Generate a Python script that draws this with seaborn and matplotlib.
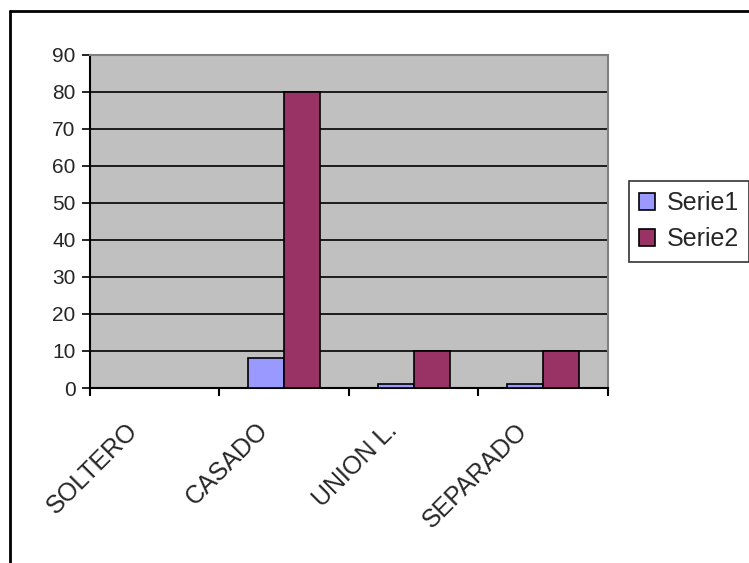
import matplotlib
matplotlib.use("Agg")
import matplotlib.pyplot as plt
import matplotlib.transforms as mtransforms
from matplotlib.lines import Line2D
import seaborn as sns
import pandas as pd

# ---- data ----
categories = ["SOLTERO", "CASADO", "UNION L.", "SEPARADO"]
serie1 = [0, 8, 1, 1]
serie2 = [0, 80, 10, 10]
series_names = ["Serie1", "Serie2"]
y_ticks = [0, 10, 20, 30, 40, 50, 60, 70, 80, 90]

df = pd.DataFrame({
    "estado": categories * 2,
    "valor": serie1 + serie2,
    "serie": [series_names[0]] * len(categories) + [series_names[1]] * len(categories),
})

sns.set_theme(style="white")
plt.rcParams["font.family"] = ["Liberation Sans", "DejaVu Sans"]

W, H, DPI = 749, 563, 100
fig = plt.figure(figsize=(W / DPI, H / DPI), dpi=DPI)
fig.patch.set_facecolor("white")

# plot area in pixel terms
left_px, right_px, top_px, bottom_px = 89.5, 608, 54.5, 388
ax = fig.add_axes([left_px / W, 1 - bottom_px / H,
                   (right_px - left_px) / W, (bottom_px - top_px) / H])
ax.set_facecolor("#C0C0C0")

palette = {"Serie1": "#9999FF", "Serie2": "#993366"}
sns.barplot(data=df, x="estado", y="valor", hue="serie", order=categories,
            hue_order=series_names, palette=palette, width=0.556,
            edgecolor="black", linewidth=1.2, saturation=1, ax=ax, zorder=3)

ax.set_xlim(-0.5, len(categories) - 0.5)
ax.set_ylim(0, 90)
ax.set_xlabel("")
ax.set_ylabel("")

# gridlines
ax.set_yticks(y_ticks)
ax.yaxis.grid(True, color="black", linewidth=1.2, zorder=1)
ax.set_axisbelow(True)
ax.tick_params(axis="y", direction="out", length=6, width=1.2, color="black",
               labelsize=15, pad=4, left=True)

# spines
for s in ["left", "bottom"]:
    ax.spines[s].set_color("black")
    ax.spines[s].set_linewidth(1.5)
for s in ["top", "right"]:
    ax.spines[s].set_color("#808080")
    ax.spines[s].set_linewidth(1.5)

# category boundary ticks (minor) and labels at centers (major)
ax.set_xticks([i - 0.5 for i in range(len(categories) + 1)], minor=True)
ax.set_xticks(range(len(categories)))
ax.set_xticklabels(categories, rotation=45, ha="right", va="center",
                   rotation_mode="anchor", fontsize=18)
ax.tick_params(axis="x", which="minor", direction="out", length=6, width=1.5,
               color="black", bottom=True)
ax.tick_params(axis="x", which="major", length=0, pad=28, bottom=True)

# rotated labels end slightly left of each category center
label_shift = mtransforms.ScaledTranslation(-20 / DPI, 0, fig.dpi_scale_trans)
for lbl in ax.get_xticklabels():
    lbl.set_transform(lbl.get_transform() + label_shift)

# legend
handles, labels = ax.get_legend_handles_labels()
leg = ax.legend(handles, labels, loc="upper left",
                bbox_to_anchor=(629 / W, 1 - 181 / H),
                bbox_transform=fig.transFigure, borderaxespad=0,
                fontsize=18, frameon=True, fancybox=False,
                edgecolor="black", handlelength=0.65, handleheight=0.65,
                handletextpad=0.45, labelspacing=0.5, borderpad=0.4)
leg.get_frame().set_linewidth(1.2)
for h in leg.legend_handles:
    h.set_edgecolor("black")
    h.set_linewidth(1.2)

# outer chart frame (left and top edges)
fig.add_artist(Line2D([9.5 / W, 9.5 / W], [0, 1 - 11 / H],
                      transform=fig.transFigure, color="black", linewidth=2))
fig.add_artist(Line2D([9.5 / W, 1], [1 - 11 / H, 1 - 11 / H],
                      transform=fig.transFigure, color="black", linewidth=2))

fig.savefig("out.png", dpi=DPI)
